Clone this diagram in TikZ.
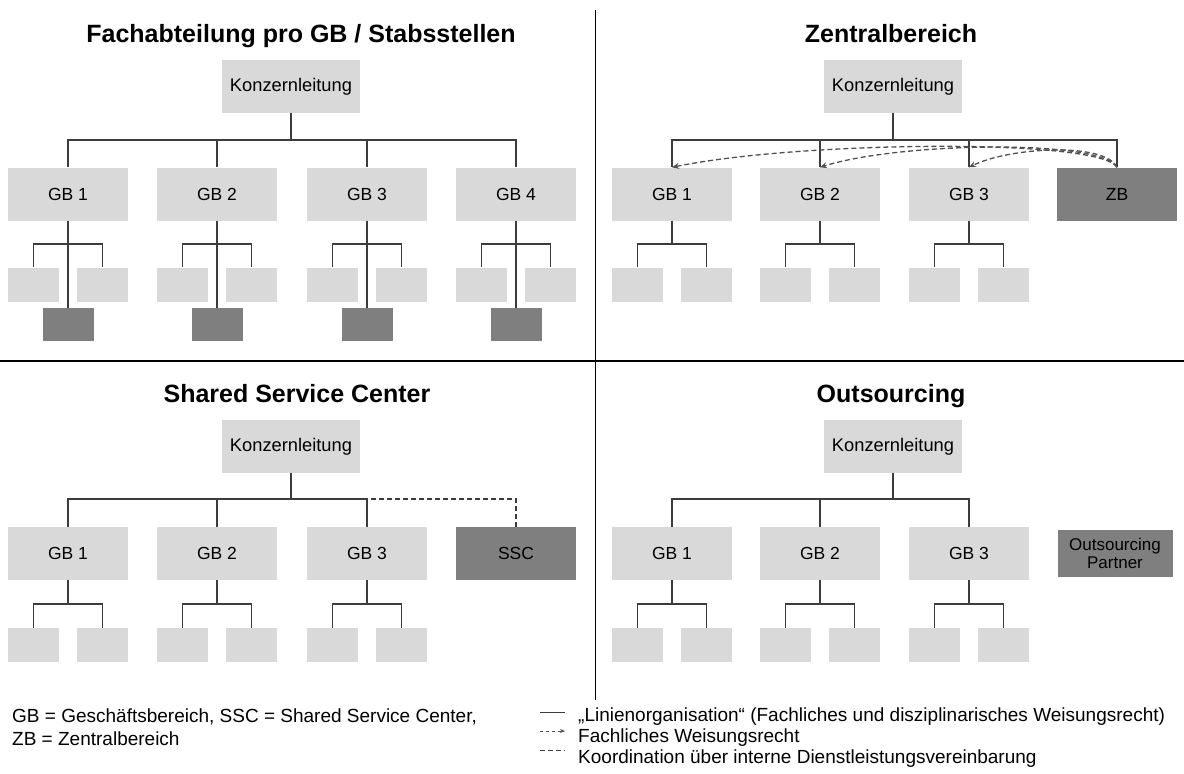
\documentclass[tikz,border=0pt]{standalone}
\usepackage{fontspec}
\setmainfont{Liberation Sans}
\usetikzlibrary{arrows.meta}
\definecolor{boxlight}{HTML}{D9D9D9}
\definecolor{boxdark}{HTML}{7F7F7F}
\definecolor{linegray}{HTML}{3C3C3C}
\newcommand{\fsz}[1]{\fontsize{#1}{#1}\selectfont}
% two subordinate units below a business unit: #1 parent, #2 x centre, #3 bus y, #4 box y
\newcommand{\subpair}[4]{%
  \node[sub] (#1-l) at (#2-34.5,#4) {};
  \node[sub] (#1-r) at (#2+34.5,#4) {};
  \coordinate (#1-j) at (#2,#3);
  \draw[conn] (#1.south) -- (#1-j);
  \draw[conn] (#1-l.north) |- (#1-j) -| (#1-r.north);
}
\begin{document}
\begin{tikzpicture}[x=1pt,y=1pt,
  gb/.style={fill=boxlight, draw=none, minimum width=120pt, minimum height=53pt, inner sep=0pt, font=\fsz{17.5}},
  kl/.style={gb, minimum width=138pt, font=\fsz{18.3}},
  dkbox/.style={gb, fill=boxdark},
  sub/.style={fill=boxlight, draw=none, minimum width=51pt, minimum height=34pt, inner sep=0pt},
  stab/.style={fill=boxdark, draw=none, minimum width=51pt, minimum height=33pt, inner sep=0pt},
  ttl/.style={font=\fsz{25}\bfseries, inner sep=0pt, anchor=base},
  conn/.style={draw=linegray, line width=1.3pt},
  stabline/.style={draw=linegray, line width=2.2pt},
  weisung/.style={draw=linegray!90, line width=1.3pt, dash pattern=on 5pt off 3pt, -{Stealth[length=7pt,width=6pt]}},
  koord/.style={draw=linegray, line width=1.1pt, dash pattern=on 5pt off 3pt},
  legtxt/.style={font=\fsz{19}, inner sep=0pt, anchor=west},
]
\useasboundingbox (0,0) rectangle (1184,-774);

% quadrant dividers
\draw[black, line width=1.6pt] (0,-361) -- (1184,-361);
\draw[black, line width=1pt] (595,-10) -- (595,-700);

% ---------- Fachabteilung pro GB / Stabsstellen ----------
\node[ttl] (tl-title) at (301,-42) {Fachabteilung pro GB / Stabsstellen};
\node[kl] (tl-kl) at (291,-86.5) {Konzernleitung};
\coordinate (tl-bus) at (291,-140);
\draw[conn] (tl-kl.south) -- (tl-bus);
\foreach \i/\cx in {1/68,2/217,3/367,4/516}{
  \node[gb] (tl-gb\i) at (\cx,-194) {GB \i};
  \draw[conn] (tl-bus) -| (tl-gb\i.north);
  \subpair{tl-gb\i}{\cx}{-244}{-284.5}
  \node[stab] (tl-st\i) at (\cx,-324.5) {};
  \draw[stabline] (tl-gb\i.south) -- (tl-st\i.north);
}

% ---------- Zentralbereich ----------
\node[ttl] (tr-title) at (891,-42) {Zentralbereich};
\node[kl] (tr-kl) at (893,-86.5) {Konzernleitung};
\coordinate (tr-bus) at (893,-140);
\draw[conn] (tr-kl.south) -- (tr-bus);
\foreach \i/\cx in {1/672,2/820,3/969}{
  \node[gb] (tr-gb\i) at (\cx,-194) {GB \i};
  \draw[conn] (tr-bus) -| (tr-gb\i.north);
  \subpair{tr-gb\i}{\cx}{-244}{-284.5}
}
\node[dkbox] (tr-zb) at (1117,-194) {ZB};
\draw[conn] (tr-bus) -| (tr-zb.north);
\draw[weisung] (tr-zb.north) .. controls (1100,-138) and (800,-141) .. (tr-gb1.north);
\draw[weisung] (tr-zb.north) .. controls (1102,-139) and (900,-142) .. (tr-gb2.north);
\draw[weisung] (tr-zb.north) .. controls (1105,-142) and (1010,-147) .. (tr-gb3.north);

% ---------- Shared Service Center ----------
\node[ttl] (bl-title) at (297,-402) {Shared Service Center};
\node[kl] (bl-kl) at (291,-446.5) {Konzernleitung};
\coordinate (bl-bus) at (291,-499);
\draw[conn] (bl-kl.south) -- (bl-bus);
\node[dkbox] (bl-ssc) at (516,-553.5) {SSC};
\draw[koord] (bl-bus) -| (bl-ssc.north);
\foreach \i/\cx in {1/68,2/217,3/367}{
  \node[gb] (bl-gb\i) at (\cx,-553.5) {GB \i};
  \draw[conn] (bl-bus) -| (bl-gb\i.north);
  \subpair{bl-gb\i}{\cx}{-604}{-645}
}

% ---------- Outsourcing ----------
\node[ttl] (br-title) at (891,-402) {Outsourcing};
\node[kl] (br-kl) at (893,-446.5) {Konzernleitung};
\coordinate (br-bus) at (893,-499);
\draw[conn] (br-kl.south) -- (br-bus);
\foreach \i/\cx in {1/672,2/820,3/969}{
  \node[gb] (br-gb\i) at (\cx,-553.5) {GB \i};
  \draw[conn] (br-bus) -| (br-gb\i.north);
  \subpair{br-gb\i}{\cx}{-604}{-645}
}
\node[dkbox, minimum width=115pt, minimum height=47pt, font=\fsz{17}, align=center] (br-op) at (1115,-553) {Outsourcing\\[1pt]Partner};

% ---------- legend ----------
\node[legtxt] (abk1) at (12,-717) {GB = Geschäftsbereich, SSC = Shared Service Center,};
\node[legtxt] (abk2) at (12,-739) {ZB = Zentralbereich};

\node[legtxt] (leg1) at (578,-717) {„Linienorganisation“ (Fachliches und disziplinarisches Weisungsrecht)};
\node[legtxt] (leg2) at (578,-738) {Fachliches Weisungsrecht};
\node[legtxt] (leg3) at (578,-759) {Koordination über interne Dienstleistungsvereinbarung};
\coordinate (s1a) at (540,-712); \coordinate (s1b) at (565,-712);
\coordinate (s2a) at (540,-731); \coordinate (s2b) at (565,-731);
\coordinate (s3a) at (540,-750); \coordinate (s3b) at (565,-750);
\draw[draw=linegray, line width=1pt] (s1a) -- (s1b);
\draw[weisung, line width=1pt, dash pattern=on 3pt off 3pt, -{Stealth[length=5pt,width=4pt]}] (s2a) -- (s2b);
\draw[koord, line width=1pt] (s3a) -- (s3b);
\end{tikzpicture}
\end{document}
